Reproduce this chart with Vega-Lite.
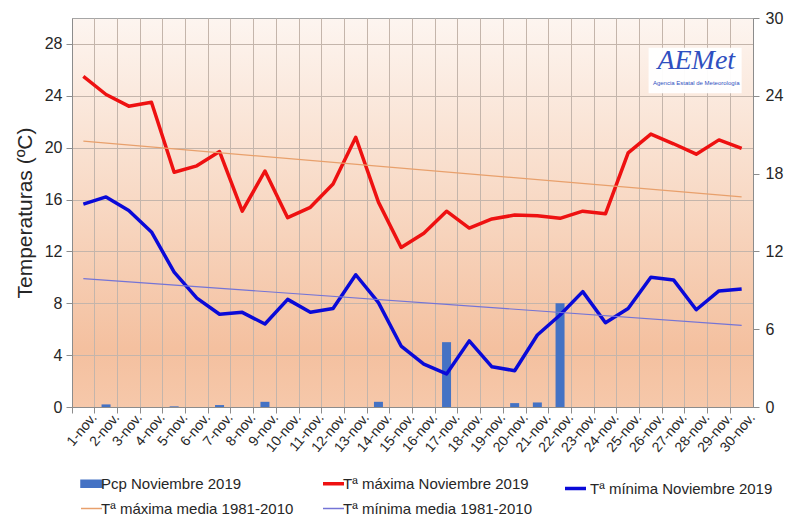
{
  "$schema": "https://vega.github.io/schema/vega-lite/v6.json",
  "width": 681,
  "height": 389,
  "autosize": {"type": "none"},
  "padding": {"left": 72, "top": 18, "right": 39, "bottom": 112},
  "background": "white",
  "config": {
    "font": "Liberation Sans",
    "view": {
      "stroke": "#a6a6a6",
      "strokeWidth": 1,
      "fill": {
        "gradient": "linear", "x1": 0, "y1": 0, "x2": 0, "y2": 1,
        "stops": [
          {"offset": 0, "color": "#fdf5f0"},
          {"offset": 0.45, "color": "#f8dac6"},
          {"offset": 0.85, "color": "#f4c09f"},
          {"offset": 1, "color": "#f6c8aa"}
        ]
      }
    },
    "axis": {
      "labelFont": "Liberation Sans",
      "titleFont": "Liberation Sans",
      "labelColor": "#262626",
      "titleColor": "#262626",
      "domainColor": "#8c8c8c",
      "tickColor": "#8c8c8c",
      "gridColor": "#c4b5ab",
      "gridWidth": 1
    },
    "legend": {"labelFont": "Liberation Sans", "labelFontSize": 15, "labelColor": "#262626", "labelLimit": 400}
  },
  "datasets": {
    "diario": [
      {"dia": "1-nov.", "tmax": 25.5, "tmin": 15.65, "pcp": 0},
      {"dia": "2-nov.", "tmax": 24.1, "tmin": 16.2, "pcp": 0.2},
      {"dia": "3-nov.", "tmax": 23.2, "tmin": 15.15, "pcp": 0},
      {"dia": "4-nov.", "tmax": 23.5, "tmin": 13.5, "pcp": 0},
      {"dia": "5-nov.", "tmax": 18.1, "tmin": 10.4, "pcp": 0.05},
      {"dia": "6-nov.", "tmax": 18.6, "tmin": 8.4, "pcp": 0},
      {"dia": "7-nov.", "tmax": 19.7, "tmin": 7.15, "pcp": 0.15},
      {"dia": "8-nov.", "tmax": 15.1, "tmin": 7.3, "pcp": 0},
      {"dia": "9-nov.", "tmax": 18.2, "tmin": 6.4, "pcp": 0.4},
      {"dia": "10-nov.", "tmax": 14.6, "tmin": 8.3, "pcp": 0},
      {"dia": "11-nov.", "tmax": 15.4, "tmin": 7.3, "pcp": 0},
      {"dia": "12-nov.", "tmax": 17.2, "tmin": 7.6, "pcp": 0},
      {"dia": "13-nov.", "tmax": 20.8, "tmin": 10.2, "pcp": 0},
      {"dia": "14-nov.", "tmax": 15.8, "tmin": 8.05, "pcp": 0.4},
      {"dia": "15-nov.", "tmax": 12.3, "tmin": 4.7, "pcp": 0},
      {"dia": "16-nov.", "tmax": 13.4, "tmin": 3.3, "pcp": 0},
      {"dia": "17-nov.", "tmax": 15.1, "tmin": 2.55, "pcp": 5.0},
      {"dia": "18-nov.", "tmax": 13.8, "tmin": 5.1, "pcp": 0},
      {"dia": "19-nov.", "tmax": 14.5, "tmin": 3.1, "pcp": 0},
      {"dia": "20-nov.", "tmax": 14.8, "tmin": 2.8, "pcp": 0.3},
      {"dia": "21-nov.", "tmax": 14.75, "tmin": 5.55, "pcp": 0.35},
      {"dia": "22-nov.", "tmax": 14.55, "tmin": 7.1, "pcp": 8.0},
      {"dia": "23-nov.", "tmax": 15.1, "tmin": 8.9, "pcp": 0},
      {"dia": "24-nov.", "tmax": 14.9, "tmin": 6.5, "pcp": 0},
      {"dia": "25-nov.", "tmax": 19.6, "tmin": 7.6, "pcp": 0},
      {"dia": "26-nov.", "tmax": 21.05, "tmin": 10.0, "pcp": 0},
      {"dia": "27-nov.", "tmax": 20.3, "tmin": 9.8, "pcp": 0},
      {"dia": "28-nov.", "tmax": 19.5, "tmin": 7.5, "pcp": 0},
      {"dia": "29-nov.", "tmax": 20.6, "tmin": 8.95, "pcp": 0},
      {"dia": "30-nov.", "tmax": 19.95, "tmin": 9.1, "pcp": 0}
    ],
    "medias": [
      {"dia": "1-nov.", "tmaxm": 20.5, "tminm": 9.9},
      {"dia": "30-nov.", "tmaxm": 16.2, "tminm": 6.3}
    ],
    "logo": [
      {"dia": "28-nov.", "y": 26.7, "texto": "AEMet", "tipo": "marca"},
      {"dia": "28-nov.", "y": 25.0, "texto": "Agencia Estatal de Meteorología", "tipo": "sub"}
    ],
    "caja": [
      {"desde": "26-nov.", "hasta": "30-nov.", "arriba": 27.7, "abajo": 24.2}
    ]
  },
  "encoding": {
    "x": {
      "field": "dia",
      "type": "nominal",
      "title": null,
      "scale": {
        "type": "band",
        "paddingInner": 0,
        "paddingOuter": 0,
        "domain": ["1-nov.", "2-nov.", "3-nov.", "4-nov.", "5-nov.", "6-nov.", "7-nov.", "8-nov.", "9-nov.", "10-nov.", "11-nov.", "12-nov.", "13-nov.", "14-nov.", "15-nov.", "16-nov.", "17-nov.", "18-nov.", "19-nov.", "20-nov.", "21-nov.", "22-nov.", "23-nov.", "24-nov.", "25-nov.", "26-nov.", "27-nov.", "28-nov.", "29-nov.", "30-nov."]
      },
      "axis": {
        "title": null,
        "labelAngle": -50,
        "labelFontSize": 14,
        "bandPosition": 0,
        "labelOffset": 11,
        "grid": true,
        "tickSize": 6,
        "labelPadding": 2,
        "domain": true
      }
    }
  },
  "layer": [
    {
      "data": {"name": "diario"},
      "mark": {"type": "bar", "size": 9, "color": "#4472c4"},
      "encoding": {
        "y": {
          "field": "pcp",
          "type": "quantitative",
          "scale": {"domain": [0, 30], "nice": false},
          "axis": {
            "orient": "right",
            "title": null,
            "values": [0, 6, 12, 18, 24, 30],
            "grid": false,
            "labelFontSize": 16,
            "tickSize": 6,
            "labelPadding": 6
          }
        },
        "color": {
          "datum": "Pcp Noviembre 2019",
          "type": "nominal",
          "scale": {
            "domain": ["Pcp Noviembre 2019", "Tª máxima Noviembre 2019", "Tª máxima media 1981-2010", "Tª mínima media 1981-2010"],
            "range": ["#4472c4", "#ee1111", "#e8a06c", "#7474d6"]
          },
          "legend": {
            "orient": "none",
            "legendX": 12,
            "legendY": 458,
            "direction": "horizontal",
            "columns": 2,
            "columnPadding": 22,
            "rowPadding": 9,
            "title": null,
            "symbolSize": 441,
            "symbolType": "stroke",
            "labelOffset": 2,
            "encode": {
              "symbols": {
                "update": {
                  "shape": {"signal": "datum.value === 'Pcp Noviembre 2019' ? 'M-1,-0.33H1V0.33H-1Z' : 'stroke'"},
                  "fill": {"signal": "datum.value === 'Pcp Noviembre 2019' ? '#4472c4' : 'transparent'"},
                  "stroke": {"signal": "datum.value === 'Pcp Noviembre 2019' ? 'transparent' : datum.value === 'Tª máxima Noviembre 2019' ? '#ee1111' : datum.value === 'Tª máxima media 1981-2010' ? '#e8a06c' : '#7474d6'"},
                  "strokeWidth": {"signal": "datum.value === 'Tª máxima Noviembre 2019' ? 3.5 : 1.5"},
                  "opacity": {"value": 1}
                }
              }
            }
          }
        }
      }
    },
    {
      "layer": [
        {
          "data": {"name": "diario"},
          "mark": {"type": "line", "strokeWidth": 3.5, "strokeJoin": "round"},
          "encoding": {
            "y": {
              "field": "tmax",
              "type": "quantitative",
              "scale": {"domain": [0, 30], "nice": false},
              "axis": {
                "orient": "left",
                "title": "Temperaturas (ºC)",
                "titleFontSize": 21,
                "titleFontWeight": "normal",
                "titlePadding": 9,
                "values": [0, 4, 8, 12, 16, 20, 24, 28],
                "grid": true,
                "labelFontSize": 16,
                "tickSize": 6,
                "labelPadding": 4
              }
            },
            "color": {"datum": "Tª máxima Noviembre 2019", "type": "nominal"}
          }
        },
        {
          "data": {"name": "diario"},
          "mark": {"type": "line", "strokeWidth": 3.5, "strokeJoin": "round"},
          "encoding": {
            "y": {"field": "tmin", "type": "quantitative"},
            "stroke": {
              "datum": "Tª mínima Noviembre 2019",
              "type": "nominal",
              "scale": {"domain": ["Tª mínima Noviembre 2019"], "range": ["#0a0ad8"]},
              "legend": {
                "orient": "none",
                "legendX": 491,
                "legendY": 458,
                "title": null,
                "symbolSize": 441,
                "symbolType": "stroke",
                "symbolStrokeWidth": 3.5,
                "labelOffset": 2
              }
            }
          }
        },
        {
          "data": {"name": "medias"},
          "mark": {"type": "line", "strokeWidth": 1.2},
          "encoding": {
            "y": {"field": "tmaxm", "type": "quantitative"},
            "color": {"datum": "Tª máxima media 1981-2010", "type": "nominal"}
          }
        },
        {
          "data": {"name": "medias"},
          "mark": {"type": "line", "strokeWidth": 1.2},
          "encoding": {
            "y": {"field": "tminm", "type": "quantitative"},
            "color": {"datum": "Tª mínima media 1981-2010", "type": "nominal"}
          }
        },
        {
          "data": {"name": "caja"},
          "mark": {"type": "rect", "fill": "white", "opacity": 0.95},
          "encoding": {
            "x": {"field": "desde", "type": "nominal", "bandPosition": 0.4},
            "x2": {"field": "hasta"},
            "y": {"field": "arriba", "type": "quantitative"},
            "y2": {"field": "abajo"}
          }
        },
        {
          "data": {"name": "logo"},
          "transform": [{"filter": "datum.tipo === 'marca'"}],
          "mark": {"type": "text", "fontSize": 28, "fontStyle": "italic", "color": "#2f4fc0", "font": "Liberation Serif"},
          "encoding": {
            "y": {"field": "y", "type": "quantitative"},
            "text": {"field": "texto"}
          }
        },
        {
          "data": {"name": "logo"},
          "transform": [{"filter": "datum.tipo === 'sub'"}],
          "mark": {"type": "text", "fontSize": 6, "color": "#3050c0"},
          "encoding": {
            "y": {"field": "y", "type": "quantitative"},
            "text": {"field": "texto"}
          }
        }
      ]
    }
  ],
  "resolve": {"scale": {"y": "independent"}}
}
